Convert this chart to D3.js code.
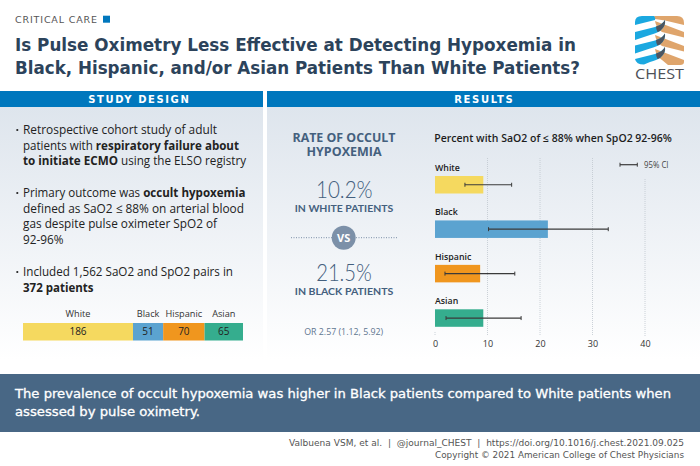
<!DOCTYPE html>
<html><head><meta charset="utf-8">
<script src="https://cdn.jsdelivr.net/npm/d3@7"></script>
<style>
html,body{margin:0;padding:0;background:#fff}
svg{display:block}
text{font-family:"Open Sans",sans-serif;white-space:pre}
.v{font-family:"DejaVu Sans",sans-serif}
.l{font-family:"Lato",sans-serif}
</style></head><body>
<svg id="c" width="700" height="466"></svg>
<script>
const groups = ["White","Black","Hispanic","Asian"];
const colors = ["#f5d95f","#5ba3d0","#f0961e","#35ad8e"];
const counts = [186,51,70,65];
const rates = [9.2,21.5,8.6,9.2];
const ciLow = [5.7,10.2,1.9,2.1];
const ciHigh = [14.6,33,15.2,16.4];
const xTicks = [0,10,20,30,40];
const titleLines = ["Is Pulse Oximetry Less Effective at Detecting Hypoxemia in","Black, Hispanic, and/or Asian Patients Than White Patients?"];

const svg = d3.select("#c");
const defs = svg.append("defs");
const g = defs.append("linearGradient").attr("id","bg").attr("x1",0).attr("y1",0).attr("x2",0).attr("y2",1);
g.append("stop").attr("offset",0).attr("stop-color","#dee5ed");
g.append("stop").attr("offset",1).attr("stop-color","#ffffff");

function txt(x,y,s,o={}){
  const t=svg.append("text").attr("x",x).attr("y",y)
    .attr("font-size",o.size||12).attr("fill",o.fill||"#222")
    .attr("text-anchor",o.anchor||"start").attr("font-weight",o.weight||400);
  if(o.cls)t.attr("class",o.cls);
  if(o.len)t.attr("textLength",o.len).attr("lengthAdjust",o.adjust||"spacingAndGlyphs");
  if(Array.isArray(s)) s.forEach(p=>t.append("tspan").attr("font-weight",p[1]?700:400).text(p[0]));
  else t.text(s);
  return t;
}

// header
txt(15,23,"CRITICAL CARE",{size:9.5,fill:"#555",cls:"v",len:82,adjust:"spacing"});
svg.append("rect").attr("x",103).attr("y",15.7).attr("width",7).attr("height",7).attr("fill","#0077bd");
titleLines.forEach((l,i)=>txt(15,51+i*23,l,{size:18,weight:700,fill:"#2c435b",cls:"v",len:i?565:561}));

// logo
const logo = svg.append("g");
const blue="#1ba8e0", tan="#dfa56c", dark="#4d5560";
const tanPaths=[
 "M654 16H677Q684 16 684 23V25L665 20.5L655 19Z",
 "M655 21L684 32V37.5L662 32Q656 28 655 21Z",
 "M655 35L684 46V51.5L662 46Q656 42 655 35Z",
 "M655 49L684 60V62Q684 65 680 65H668L662 60Q656 56 655 49Z"];
const bluePaths=[
 "M635 25V22Q635 16 642 16H654Q656 18 655 20Z",
 "M635 32L655 27Q662 25 665 20Q666 26 660 31Q657 33 650 35L635 40Z",
 "M635 45.5L655 40.5Q662 38.5 665 33.5Q666 39.5 660 44.5Q657 46.5 650 48.5L635 53.5Z",
 "M635 59L655 54Q662 52 665 47Q666 53 660 58Q657 60 650 62L644 64.5Q636 64.5 635 59Z"];
const darkPaths=[
 "M656 26.5Q662 25 665 20Q666 26 660 31L657.5 32Q656 29 656 26.5Z",
 "M656 40Q662 38.5 665 33.5Q666 39.5 660 44.5L657.5 45.5Q656 43 656 40Z",
 "M656 53.5Q662 52 665 47Q666 53 660 58L657.5 59Q656 56.5 656 53.5Z"];
tanPaths.forEach(d=>logo.append("path").attr("d",d).attr("fill",tan));
bluePaths.forEach(d=>logo.append("path").attr("d",d).attr("fill",blue));
darkPaths.forEach(d=>logo.append("path").attr("d",d).attr("fill",dark));
txt(635,79,"CHEST",{size:14.7,fill:"#4d5158",len:49});

// section bands
const panels=[[0,263,"STUDY DESIGN",138.5,100.5],[267,433,"RESULTS",483.5,58.5]];
panels.forEach(p=>{
  svg.append("rect").attr("x",p[0]).attr("y",107).attr("width",p[1]).attr("height",253).attr("fill","url(#bg)");
  svg.append("rect").attr("x",p[0]).attr("y",91).attr("width",p[1]).attr("height",16).attr("fill","#0077bd");
  txt(p[3],103,p[2],{size:10,weight:700,fill:"#fff",anchor:"middle",cls:"v",len:p[4],adjust:"spacing"});
});

// bullets
const bullets=[
 [134,[["Retrospective cohort study of adult",0]],194],
 [149.5,[["patients with ",0],["respiratory failure about",1]],216],
 [165,[["to initiate ECMO",1],[" using the ELSO registry",0]],223],
 [197,[["Primary outcome was ",0],["occult hypoxemia",1]],222.5],
 [212.5,[["defined as SaO2 ≤ 88% on arterial blood",0]],221],
 [228,[["gas despite pulse oximeter SpO2 of",0]],194],
 [244,[["92-96%",0]],40.5],
 [276,[["Included 1,562 SaO2 and SpO2 pairs in",0]],210],
 [291.5,[["372 patients",1]],70.5]
];
bullets.forEach(b=>txt(23,b[0],b[1],{size:12.6,fill:"#222",len:b[2]}));
[134,197,276].forEach(y=>svg.append("circle").attr("cx",17.3).attr("cy",y-4).attr("r",1.1).attr("fill","#222"));

// stacked composition bar
const total=d3.sum(counts);
const sx=d3.scaleLinear().domain([0,total]).range([23,243]);
let acc=0;
const segs=counts.map((c,i)=>{const s={i,c,a:acc,b:acc+c};acc+=c;return s;});
svg.selectAll(".seg").data(segs).join("rect").attr("class","seg")
  .attr("x",d=>sx(d.a)).attr("width",d=>sx(d.b)-sx(d.a)).attr("y",323).attr("height",17.5).attr("fill",d=>colors[d.i]);
segs.forEach(d=>{
  const m=(sx(d.a)+sx(d.b))/2;
  txt(m,335,d.c,{size:10,anchor:"middle",fill:"#222"});
  txt(m,316.5,groups[d.i],{size:9.2,anchor:"middle",fill:"#333"});
});

// rate column
const slate="#44607e";
txt(344,142.3,"RATE OF OCCULT",{size:11.5,weight:700,fill:slate,anchor:"middle",len:103});
txt(344,156,"HYPOXEMIA",{size:11.5,weight:700,fill:slate,anchor:"middle",len:75});
txt(344.3,197.6,"10.2%",{size:23.5,fill:slate,anchor:"middle",cls:"l",len:56.7}).attr("font-weight",300);
txt(344,212,"IN WHITE PATIENTS",{size:9.5,weight:700,fill:slate,anchor:"middle",cls:"l",len:98.5});
svg.append("line").attr("x1",291).attr("x2",397).attr("y1",237.7).attr("y2",237.7)
  .attr("stroke","#7b8ea5").attr("stroke-width",1).attr("stroke-dasharray","1 1.5");
svg.append("circle").attr("cx",343.7).attr("cy",237.7).attr("r",12).attr("fill","#7c90a8");
txt(343.7,241.7,"VS",{size:11,weight:700,fill:"#fff",anchor:"middle"});
txt(344,280.6,"21.5%",{size:23.5,fill:slate,anchor:"middle",cls:"l",len:55.7}).attr("font-weight",300);
txt(344,295,"IN BLACK PATIENTS",{size:9.5,weight:700,fill:slate,anchor:"middle",cls:"l",len:98.5});
txt(343.7,334.5,"OR 2.57 (1.12, 5.92)",{size:9.5,fill:"#5f7690",anchor:"middle",len:79});

// bar chart
txt(434.3,141.7,"Percent with SaO2 of ≤ 88% when SpO2 92-96%",{size:10.5,weight:600,fill:"#1d1d1d",len:237.5});
const x=d3.scaleLinear().domain([0,40]).range([435,645]);
const barTop=d3.scalePoint().domain(groups).range([176,309.3]);
const barH=17.5;

svg.selectAll(".grid").data(xTicks).join("line").attr("class","grid")
  .attr("x1",d=>x(d)).attr("x2",d=>x(d))
  .attr("y1",d=>d==40?179:(d==0?332:158)).attr("y2",336)
  .attr("stroke","#bfc6ce").attr("stroke-width",0.8).attr("stroke-dasharray","1 1");

const axis=d3.axisBottom(x).tickValues(xTicks).tickSize(0).tickPadding(0);
const ax=svg.append("g").attr("transform","translate(0,342)").call(axis);
ax.select(".domain").remove();
ax.selectAll("text").attr("font-size",9).attr("font-family",'"Open Sans",sans-serif').attr("fill","#333").attr("dy","0.5em");

svg.selectAll(".bar").data(groups).join("rect").attr("class","bar")
  .attr("x",x(0)).attr("y",d=>barTop(d)).attr("height",barH)
  .attr("width",(d,i)=>x(rates[i])-x(0)).attr("fill",(d,i)=>colors[i]);
groups.forEach((n,i)=>{
  const y=barTop(n);
  txt(435,y-5,n,{size:8.8,weight:600,fill:"#1d1d1d"});
  const cy=y+barH/2, xa=x(ciLow[i]), xb=x(ciHigh[i]);
  svg.append("line").attr("x1",xa).attr("x2",xb).attr("y1",cy).attr("y2",cy).attr("stroke","#3a3a3a").attr("stroke-width",1.2);
  [xa,xb].forEach(v=>svg.append("line").attr("x1",v).attr("x2",v).attr("y1",cy-2).attr("y2",cy+2).attr("stroke","#3a3a3a").attr("stroke-width",1));
});
// CI key
const ky=164.7;
svg.append("line").attr("x1",620).attr("x2",637.3).attr("y1",ky).attr("y2",ky).attr("stroke","#3a3a3a").attr("stroke-width",1.2);
[620,637.3].forEach(v=>svg.append("line").attr("x1",v).attr("x2",v).attr("y1",ky-2).attr("y2",ky+2).attr("stroke","#3a3a3a"));
txt(644,168,"95% CI",{size:8.8,fill:"#444",len:24.5});

// takeaway band
svg.append("rect").attr("x",0).attr("y",374).attr("width",700).attr("height",58).attr("fill","#486785");
txt(15,398,"The prevalence of occult hypoxemia was higher in Black patients compared to White patients when",{size:12,fill:"#fff",cls:"v",len:656}).attr("stroke","#fff").attr("stroke-width",0.3);
txt(15,416,"assessed by pulse oximetry.",{size:12,fill:"#fff",cls:"v",len:185}).attr("stroke","#fff").attr("stroke-width",0.3);

// footer
txt(289,445.8,"Valbuena VSM, et al.  |  @journal_CHEST  |  https://doi.org/10.1016/j.chest.2021.09.025",{size:8.6,fill:"#555",cls:"v",len:395});
txt(435,458,"Copyright © 2021 American College of Chest Physicians",{size:8.6,fill:"#555",cls:"v",len:249});
</script>
</body></html>
